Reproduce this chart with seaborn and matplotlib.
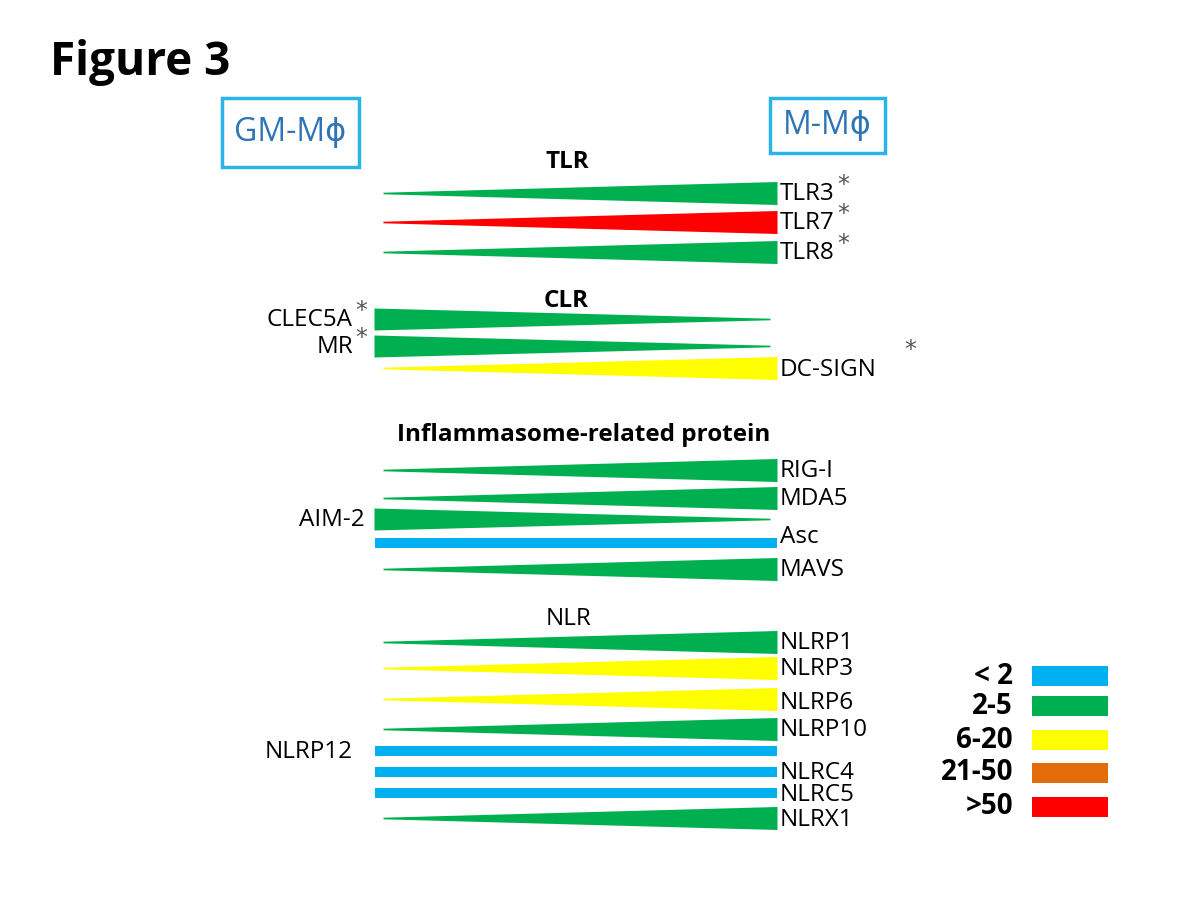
import numpy as np
import matplotlib.pyplot as plt
import seaborn as sns

# Fold-change classes and their colours (legend)
fold_labels = ['< 2', '2-5', '6-20', '21-50', '>50']
fold_colors = ['#00B0F0', '#00B050', '#FFFF00', '#E36C0A', '#FF0000']

# Genes: name, fold class, which side is higher ('M' = M-Mphi, 'GM' = GM-Mphi, '=' = no difference)
genes = ['TLR3', 'TLR7', 'TLR8',
         'CLEC5A', 'MR', 'DC-SIGN',
         'RIG-I', 'MDA5', 'AIM-2', 'Asc', 'MAVS',
         'NLRP1', 'NLRP3', 'NLRP6', 'NLRP10', 'NLRP12', 'NLRC4', 'NLRC5', 'NLRX1']
fold_class = ['2-5', '>50', '2-5',
              '2-5', '2-5', '6-20',
              '2-5', '2-5', '2-5', '< 2', '2-5',
              '2-5', '6-20', '6-20', '2-5', '< 2', '< 2', '< 2', '2-5']
higher_in = ['M', 'M', 'M',
             'GM', 'GM', 'M',
             'M', 'M', 'GM', '=', 'M',
             'M', 'M', 'M', 'M', '=', '=', '=', 'M']
significant = ['TLR3', 'TLR7', 'TLR8', 'CLEC5A', 'MR', 'DC-SIGN']

groups = ['TLR', 'CLR', 'Inflammasome-related protein', 'NLR']

# layout (pixel coordinates on a 1200x900 canvas)
row_y = [193, 222, 252,
         319, 346, 368,
         470, 498, 519, 543, 569,
         642, 668, 699, 729, 751, 772, 793, 818]
label_dy = {'Asc': -6, 'DC-SIGN': 2, 'NLRP6': 4, 'NLRX1': 2, 'NLRC5': 2}
group_pos = [(567, 162), (566, 301), (584, 435), (569, 619)]
group_bold = [True, True, True, False]

sns.set_theme(style='white')
plt.rcParams['font.family'] = ['Open Sans', 'DejaVu Sans']
plt.rcParams['text.color'] = 'black'

fig = plt.figure(figsize=(12, 9), dpi=100)
ax = fig.add_axes([0, 0, 1, 1])
ax.set_xlim(0, 1200)
ax.set_ylim(900, 0)
ax.axis('off')

color_of = dict(zip(fold_labels, fold_colors))

for name, fc, side, y in zip(genes, fold_class, higher_in, row_y):
    col = color_of[fc]
    if side == '=':
        ax.fill_between([375, 777], y - 5, y + 5, color=col, lw=0)
    elif side == 'M':
        x = np.array([383, 777])
        half = np.array([0.8, 11.5])
        ax.fill_between(x, y - half, y + half, color=col, lw=0)
    else:
        x = np.array([374, 770])
        half = np.array([11, 0.8])
        ax.fill_between(x, y - half, y + half, color=col, lw=0)

    ty = y + label_dy.get(name, 1)
    if side == 'GM' or name == 'NLRP12':
        lx = 365 if name == 'AIM-2' else 353
        txt = ax.text(lx, ty, name, ha='right', va='center', fontsize=17.5)
    else:
        txt = ax.text(780, ty, name, ha='left', va='center', fontsize=17.5)

    if name in significant:
        off = (20, 6) if name == 'DC-SIGN' else (2, -2)
        ax.annotate('*', xy=(1, 1), xycoords=txt, xytext=off, textcoords='offset points',
                    ha='left', va='center', fontsize=17, color='#555555',
                    fontfamily='DejaVu Sans')

for g, (gx, gy), b in zip(groups, group_pos, group_bold):
    ax.text(gx, gy, g, ha='center', va='center', fontsize=17.5,
            fontweight='bold' if b else 'normal')

# title
ax.text(50, 62, 'Figure 3', ha='left', va='center', fontsize=33, fontweight='bold')

# cell type boxes
for label, (x0, y0, x1, y1) in zip(['GM-M\u03d5', 'M-M\u03d5'],
                                    [(222, 98, 359, 167), (770, 98, 885, 153)]):
    ax.add_patch(plt.Rectangle((x0, y0), x1 - x0, y1 - y0, fill=False,
                               ec='#29B5E8', lw=2.5))
    ax.text((x0 + x1) / 2, (y0 + y1) / 2, label, ha='center', va='center',
            fontsize=23, color='#2E75B6')

# legend
leg_y = [676, 706, 740, 773, 807]
for lab, col, y in zip(fold_labels, fold_colors, leg_y):
    ax.fill_between([1032, 1108], y - 10, y + 10, color=col, lw=0)
    ax.text(1013, y, lab, ha='right', va='center', fontsize=20, fontweight='bold')

fig.savefig('out.png', dpi=100)
